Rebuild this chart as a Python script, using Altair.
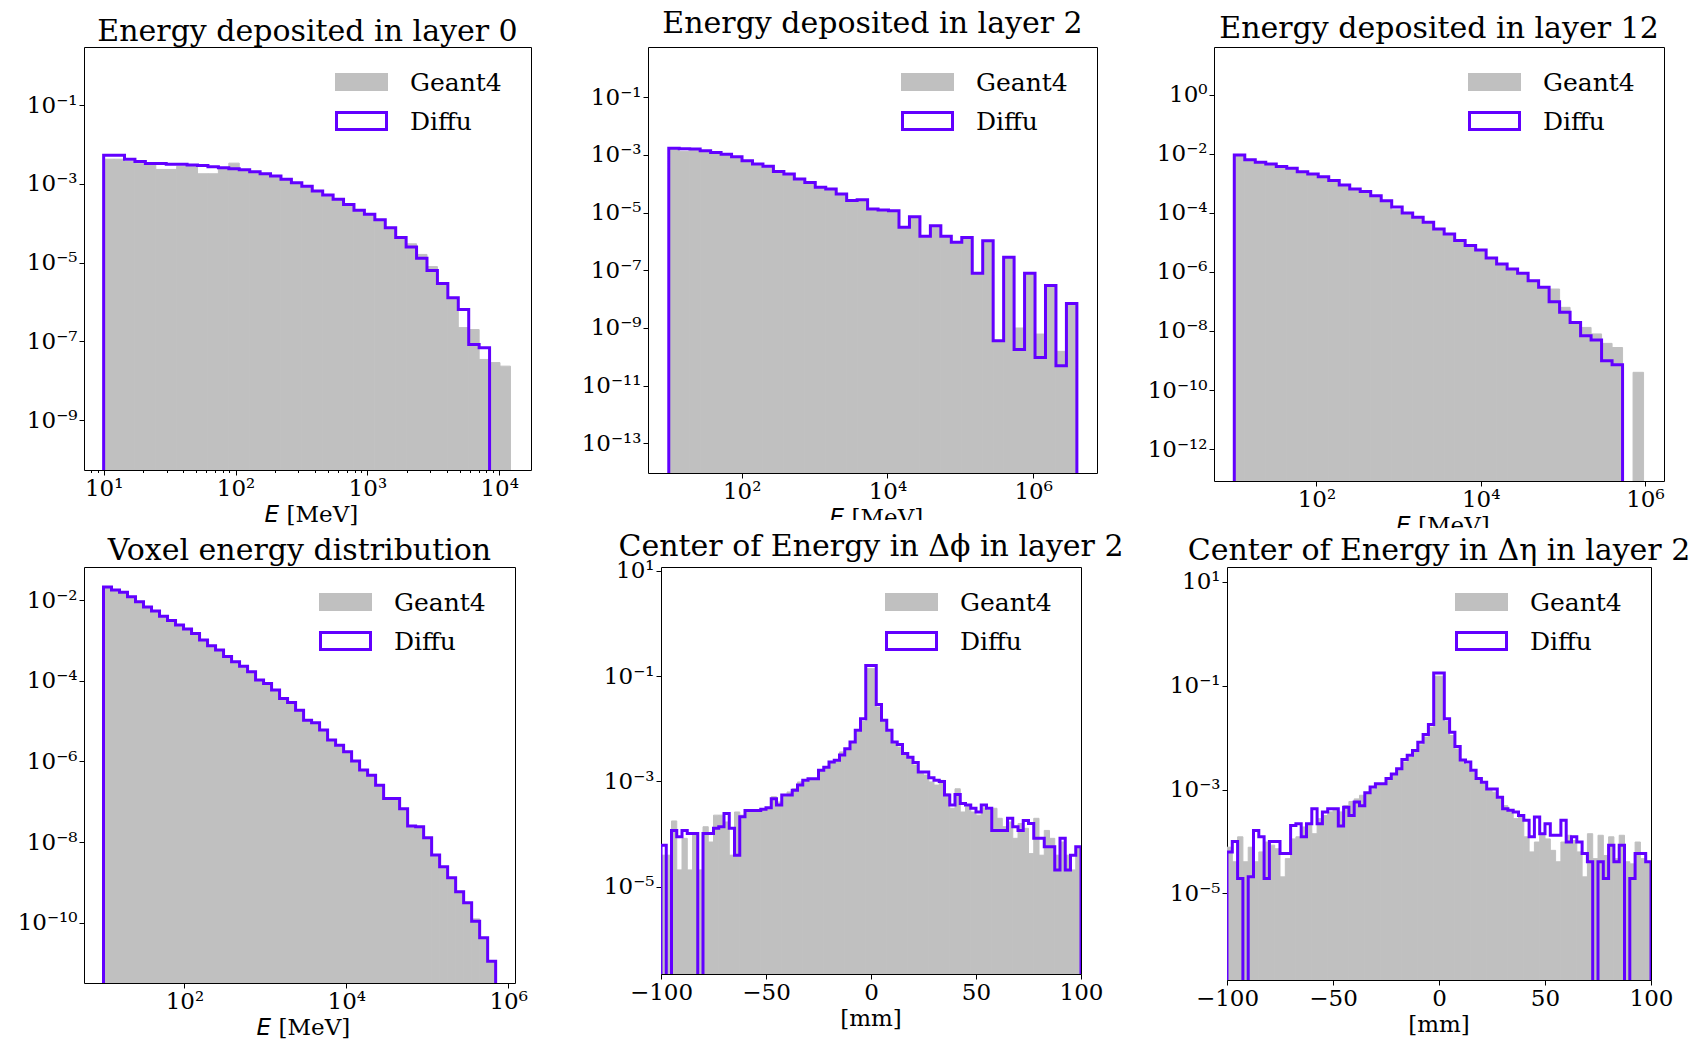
import numpy as np
import pandas as pd
import altair as alt

PURPLE = "#6200ff"
GRAY = "#c0c0c0"
SERIF = "DejaVu Serif"

# ---------------- data: log10 of normalised bin contents ----------------
# Energy deposited in layer 0 (log-spaced bins, log10 E from 1.0 to 4.085)
l0_range = [1.0, 4.085]
l0_geant4 = [-2.37, -2.37, -2.43, -2.47, -2.52, -2.63, -2.63, -2.55, -2.55, -2.74,
             -2.74, -2.62, -2.47, -2.65, -2.71, -2.76, -2.82, -2.90, -2.99, -3.08,
             -3.20, -3.30, -3.41, -3.54, -3.69, -3.79, -3.93, -4.14, -4.34, -4.52,
             -4.79, -5.10, -5.55, -5.90, -6.65, -6.70, -7.46, -7.54, -7.63]
l0_diffu = [-2.27, -2.27, -2.37, -2.43, -2.48, -2.48, -2.50, -2.50, -2.52, -2.53,
            -2.56, -2.59, -2.61, -2.64, -2.69, -2.74, -2.80, -2.88, -2.97, -3.06,
            -3.18, -3.28, -3.39, -3.52, -3.67, -3.77, -3.91, -4.11, -4.36, -4.60,
            -4.89, -5.20, -5.53, -5.89, -6.19, -7.08, -7.16]

# Energy deposited in layer 2 (log10 E from 1.0 to 6.6)
l2_range = [1.0, 6.6]
l2_geant4 = [-2.80, -2.87, -2.84, -2.88, -2.94, -3.00, -3.09, -3.23, -3.34, -3.42,
             -3.60, -3.69, -3.86, -3.98, -4.15, -4.21, -4.38, -4.61, -4.58, -4.90,
             -4.94, -4.96, -5.54, -5.17, -5.85, -5.48, -5.85, -6.06, -5.89, -7.13,
             -6.00, -9.47, -6.58, -9.00, -7.13, -9.21, -7.56, -9.81, -8.18]
l2_diffu = [-2.77, -2.78, -2.79, -2.85, -2.91, -2.97, -3.06, -3.20, -3.31, -3.39,
            -3.57, -3.66, -3.83, -3.95, -4.12, -4.18, -4.35, -4.58, -4.55, -4.87,
            -4.91, -4.93, -5.51, -5.14, -5.82, -5.45, -5.82, -6.03, -5.86, -7.10,
            -5.97, -9.44, -6.55, -9.75, -7.10, -10.02, -7.53, -10.31, -8.15]

# Energy deposited in layer 12 (log10 E from 1.0 to 5.983)
l12_range = [1.0, 5.983]
l12_geant4 = [-2.07, -2.23, -2.32, -2.38, -2.46, -2.52, -2.64, -2.72, -2.81, -2.94,
              -3.09, -3.22, -3.31, -3.45, -3.62, -3.90, -4.04, -4.18, -4.35, -4.58,
              -4.75, -4.97, -5.14, -5.29, -5.56, -5.76, -5.93, -6.08, -6.33, -6.50,
              -6.58, -7.20, -7.71, -7.88, -8.10, -8.42, -8.56, None, -9.40]
l12_diffu = [-2.04, -2.20, -2.29, -2.35, -2.43, -2.49, -2.61, -2.69, -2.78, -2.91,
             -3.06, -3.19, -3.28, -3.42, -3.59, -3.80, -4.01, -4.15, -4.32, -4.55,
             -4.72, -4.94, -5.11, -5.26, -5.53, -5.73, -5.90, -6.05, -6.30, -6.52,
             -7.01, -7.37, -7.71, -8.16, -8.31, -9.01, -9.14]

# Voxel energy distribution (log10 E from 1.0 to 5.845)
vox_range = [1.0, 5.845]
vox_geant4 = [-1.70, -1.77, -1.83, -1.94, -2.06, -2.19, -2.29, -2.42, -2.53, -2.64,
              -2.74, -2.85, -3.01, -3.15, -3.26, -3.42, -3.55, -3.66, -3.80, -4.00,
              -4.09, -4.25, -4.46, -4.56, -4.75, -5.00, -5.06, -5.24, -5.49, -5.62,
              -5.78, -6.01, -6.23, -6.36, -6.61, -6.94, -6.94, -7.19, -7.62, -7.64,
              -7.91, -8.34, -8.63, -8.90, -9.25, -9.52, -9.90, -10.39, -10.97]
vox_diffu = [-1.68, -1.75, -1.81, -1.92, -2.04, -2.17, -2.27, -2.40, -2.51, -2.62,
             -2.72, -2.83, -2.99, -3.13, -3.24, -3.40, -3.53, -3.64, -3.78, -3.98,
             -4.07, -4.23, -4.44, -4.54, -4.73, -4.98, -5.04, -5.22, -5.47, -5.60,
             -5.76, -5.99, -6.21, -6.34, -6.59, -6.92, -6.92, -7.17, -7.60, -7.62,
             -7.89, -8.32, -8.61, -8.88, -9.23, -9.50, -9.96, -10.37, -10.95]

# Centre of energy in delta-phi, layer 2 (80 bins, -100..100 mm)
mm_range = [-100.0, 100.0]
phi_geant4 = [-4.40, -4.40, -3.75, -4.68, -4.08, -4.68, -3.99, -4.68, -3.86, -4.15,
              -3.64, -3.64, -3.77, -4.40, -3.58, -3.64, -3.59, -3.58, -3.55, -3.55,
              -3.51, -3.29, -3.39, -3.29, -3.20, -3.14, -3.01, -3.01, -2.95, -2.96,
              -2.81, -2.74, -2.64, -2.62, -2.44, -2.39, -2.28, -2.06, -1.86, -0.86,
              -0.86, -1.59, -1.87, -2.06, -2.28, -2.35, -2.50, -2.55, -2.69, -2.85,
              -2.88, -3.01, -3.07, -2.98, -3.23, -3.51, -3.14, -3.58, -3.48, -3.58,
              -3.64, -3.50, -3.55, -3.51, -3.70, -3.86, -3.77, -4.08, -3.80, -3.89,
              -4.37, -3.70, -4.40, -3.93, -4.08, -4.40, -4.15, -4.40, -4.68, -4.24]
phi_diffu = [-4.21, None, -3.93, -4.05, -3.93, -3.99, -3.99, None, -3.99, -3.99,
             -3.89, -3.86, -3.61, -3.89, -4.40, -3.67, -3.55, -3.55, -3.55, -3.53,
             -3.50, -3.33, -3.45, -3.26, -3.26, -3.17, -3.07, -2.98, -2.95, -2.95,
             -2.79, -2.73, -2.63, -2.60, -2.50, -2.38, -2.25, -2.03, -1.81, -0.80,
             -0.80, -1.54, -1.84, -2.03, -2.25, -2.30, -2.47, -2.54, -2.64, -2.82,
             -2.82, -2.93, -2.98, -3.00, -3.26, -3.45, -3.25, -3.42, -3.45, -3.51,
             -3.58, -3.45, -3.51, -3.93, -3.93, -3.93, -3.70, -3.86, -3.93, -3.74,
             -3.80, -4.08, -4.08, -4.24, -4.24, -4.68, -4.08, -4.68, -4.40, -4.24]

# Centre of energy in delta-eta, layer 2 (80 bins, -100..100 mm)
eta_geant4 = [-4.11, -4.39, -3.91, -4.39, -4.11, -4.39, -4.20, -4.01, -4.07, -4.14,
              -4.68, -4.33, -3.95, -3.91, -3.72, -3.66, -3.85, -3.56, -3.50, -3.43,
              -3.37, -3.43, -3.31, -3.23, -3.18, -3.11, -3.08, -2.99, -2.92, -2.92,
              -2.83, -2.73, -2.63, -2.47, -2.38, -2.28, -2.14, -1.99, -1.80, -0.82,
              -0.82, -1.69, -1.96, -2.22, -2.46, -2.52, -2.67, -2.78, -2.89, -3.00,
              -3.05, -3.18, -3.31, -3.40, -3.56, -3.50, -3.91, -4.20, -4.01, -3.88,
              -3.95, -4.17, -4.39, -4.01, -3.88, -3.98, -4.20, -4.68, -3.85, -4.33,
              -3.88, -4.27, -3.91, -4.33, -3.88, -4.39, -4.43, -4.01, -4.33, -4.39]
eta_diffu = [-4.20, -4.00, -4.71, None, -4.68, -3.79, -3.91, -4.71, -4.00, -4.00,
             -4.23, -4.23, -3.69, -3.66, -3.91, -3.66, -3.37, -3.66, -3.43, -3.37,
             -3.37, -3.70, -3.34, -3.50, -3.24, -3.31, -3.06, -2.95, -2.89, -2.89,
             -2.79, -2.70, -2.60, -2.42, -2.34, -2.25, -2.09, -1.94, -1.75, -0.76,
             -0.76, -1.64, -1.90, -2.17, -2.43, -2.47, -2.63, -2.79, -2.86, -2.99,
             -2.99, -3.15, -3.37, -3.40, -3.43, -3.50, -3.59, -3.91, -3.53, -3.85,
             -3.66, -3.88, -3.88, -3.59, -4.01, -3.91, -4.01, -4.23, -4.39, None,
             -4.39, -4.71, -4.07, -4.39, -4.07, None, -4.71, -4.23, -4.23, -4.39]

titles = ["Energy deposited in layer 0", "Energy deposited in layer 2",
          "Energy deposited in layer 12", "Voxel energy distribution",
          "Center of Energy in \u0394\u03d5 in layer 2",
          "Center of Energy in \u0394\u03b7 in layer 2"]

# ---------------- helpers ----------------
E = "round(log(datum.value)/LN10)"
S = "'\u2070\u00b9\u00b2\u00b3\u2074\u2075\u2076\u2077\u2078\u2079'"
POW = ("'10' + (" + E + " < 0 ? '\u207b' : '') + (abs(" + E + ") >= 10 ? substring(" + S +
       ", floor(abs(" + E + ")/10), floor(abs(" + E + ")/10) + 1) : '') + substring(" + S +
       ", abs(" + E + ") % 10, abs(" + E + ") % 10 + 1)")
DEC = "abs(log(datum.value)/LN10 - " + E + ") < 0.01"

one = pd.DataFrame({"a": [0]})


def text_layer(txt, x, y, size=23, align="left", font=SERIF, style="normal"):
    return alt.Chart(one).mark_text(text=txt, align=align, baseline="alphabetic", font=font,
                                    fontSize=size, fontStyle=style, color="black").encode(
        x=alt.value(x), y=alt.value(y))


def guard(x, y, y2):
    # invisible spacer that fixes the layout bounds of a row
    return alt.Chart(one).mark_rect(opacity=0).encode(
        x=alt.value(x), x2=alt.value(x + 1), y=alt.value(y), y2=alt.value(y2))


def make_panel(title, title_dy, edges, g4, df, xscale, xvals, xlabel_expr, xtick, ydom, yexps,
               w, h, xtitle, mask=None, extra=()):
    lo, hi = ydom
    ymin, ymax = 10.0 ** lo, 10.0 ** hi
    floor = 10.0 ** (lo - 0.5)
    grows = [dict(x0=edges[k], x1=edges[k + 1], y=10.0 ** v, b=ymin)
             for k, v in enumerate(g4) if v is not None]
    gdf = pd.DataFrame(grows)
    n = len(df)
    xs, ys = [edges[0]], [floor]
    for k, v in enumerate(df):
        xs.append(edges[k])
        ys.append(10.0 ** v if v is not None else floor)
    xs.append(edges[n]); ys.append(ys[-1])
    xs.append(edges[n]); ys.append(floor)
    ldf = pd.DataFrame(dict(x=xs, y=ys, i=list(range(len(xs)))))

    axkw = dict(values=xvals, title=None, grid=False, labelFlush=False, labelOverlap=False,
                tickSize=xtick)
    if xlabel_expr:
        axkw["labelExpr"] = xlabel_expr
    x_axis = alt.Axis(**axkw)
    y_axis = alt.Axis(values=[10.0 ** e for e in yexps], labelExpr=POW, title=None, grid=False,
                      labelFlush=False, labelOverlap=False, tickSize=5)
    yscale = alt.Scale(type="log", domain=[ymin, ymax], nice=False)

    bars = alt.Chart(gdf).mark_rect(fill=GRAY, stroke=GRAY, strokeWidth=1, clip=True).encode(
        x=alt.X("x0:Q", scale=xscale, axis=x_axis), x2="x1:Q",
        y=alt.Y("y:Q", scale=yscale, axis=y_axis), y2="b:Q")
    line = alt.Chart(ldf).mark_line(color=PURPLE, strokeWidth=3, interpolate="step-after",
                                    clip=True, strokeJoin="miter", strokeCap="butt").encode(
        x=alt.X("x:Q", scale=xscale), y=alt.Y("y:Q", scale=yscale), order="i:Q")

    leg_g = alt.Chart(one).mark_rect(fill=GRAY).encode(
        x=alt.value(w - 196), x2=alt.value(w - 143), y=alt.value(26), y2=alt.value(44))
    leg_d = alt.Chart(one).mark_rect(fill="white", stroke=PURPLE, strokeWidth=3).encode(
        x=alt.value(w - 194.5), x2=alt.value(w - 144.5), y=alt.value(65.5), y2=alt.value(82.5))
    t1 = text_layer("Geant4", w - 121, 44, size=25)
    t2 = text_layer("Diffu", w - 121, 83, size=25)
    ttl = text_layer(title, w / 2, -title_dy, size=30, align="center")
    layers = [bars, line, leg_g, leg_d, t1, t2, ttl]
    if xtitle == "E":
        layers.append(text_layer("E", w / 2 - 43, h + 52, font="DejaVu Sans", style="italic"))
        layers.append(text_layer("[MeV]", w / 2 - 21, h + 52))
    else:
        layers.append(text_layer("[mm]", w / 2, h + 52, align="center"))
    if mask is not None:
        layers.append(alt.Chart(one).mark_rect(fill="white").encode(
            x=alt.value(w / 2 - 80), x2=alt.value(w / 2 + 80),
            y=alt.value(h + mask), y2=alt.value(h + 62)))
    layers.extend(extra)
    return alt.layer(*layers).properties(width=w, height=h)


def log_edges(r, n):
    return list(np.logspace(r[0], r[1], n + 1))


lin_edges = list(np.linspace(mm_range[0], mm_range[1], len(phi_geant4) + 1))

minor1 = [8, 9] + [m * 10 ** d for d in (1, 2, 3) for m in range(2, 10)]
p1_xvals = sorted([10, 100, 1000, 10000] + minor1)
p1_xtick = {"condition": {"test": DEC, "value": 5}, "value": 2.5}
x_dec_expr = DEC + " ? (" + POW + ") : ''"

G1 = 518   # row-1 layout bottom (px below plot top) -> sets where row 2 starts
T2 = 70    # row-2 layout top guard

p1 = make_panel(titles[0], 6, log_edges(l0_range, len(l0_geant4)), l0_geant4, l0_diffu,
                alt.Scale(type="log", domain=[10 ** 0.851, 10 ** 4.241], nice=False),
                p1_xvals, x_dec_expr, p1_xtick, (-10.27, 0.482), [-1, -3, -5, -7, -9],
                447, 423, "E", extra=[guard(-80, -46, G1)])
p2 = make_panel(titles[1], 14, log_edges(l2_range, len(l2_geant4)), l2_geant4, l2_diffu,
                alt.Scale(type="log", domain=[10 ** 0.715, 10 ** 6.876], nice=False),
                [1e2, 1e4, 1e6], POW, 5, (-14.03, 0.746), [-1, -3, -5, -7, -9, -11, -13],
                449, 426, "E", mask=47)
p3 = make_panel(titles[2], 9, log_edges(l12_range, len(l12_geant4)), l12_geant4, l12_diffu,
                alt.Scale(type="log", domain=[10 ** 0.753, 10 ** 6.232], nice=False),
                [1e2, 1e4, 1e6], POW, 5, (-13.08, 1.614), [0, -2, -4, -6, -8, -10, -12],
                450, 434, "E", mask=47)
p4 = make_panel(titles[3], 7, log_edges(vox_range, len(vox_geant4)), vox_geant4, vox_diffu,
                alt.Scale(type="log", domain=[10 ** 0.759, 10 ** 6.084], nice=False),
                [1e2, 1e4, 1e6], POW, 5, (-11.488, -1.182), [-2, -4, -6, -8, -10],
                431, 416, "E", extra=[guard(-80, -T2, 100)])
p5 = make_panel(titles[4], 11, lin_edges, phi_geant4, phi_diffu,
                alt.Scale(type="linear", domain=mm_range, nice=False, zero=False),
                [-100, -50, 0, 50, 100], None, 5, (-6.655, 1.069), [1, -1, -3, -5],
                420, 407, "mm")
p6 = make_panel(titles[5], 7, lin_edges, eta_geant4, eta_diffu,
                alt.Scale(type="linear", domain=mm_range, nice=False, zero=False),
                [-100, -50, 0, 50, 100], None, 5, (-6.665, 1.282), [1, -1, -3, -5],
                424, 413, "mm")

row1 = alt.hconcat(p1, p2, p3, spacing=117, bounds="flush")
row2 = alt.hconcat(p4, p5, p6, spacing=146, bounds="flush")

chart = alt.vconcat(row1, row2, spacing=-T2).configure_view(
    stroke="black", strokeWidth=1
).configure_axis(
    domain=False, tickColor="black", tickWidth=1, labelFont=SERIF, labelFontSize=23,
    labelColor="black", labelPadding=2
).properties(
    padding={"left": 3, "top": 0, "right": 0, "bottom": 0}, background="white"
)

chart.save("out.html", embed_options={"renderer": "svg", "actions": False})
